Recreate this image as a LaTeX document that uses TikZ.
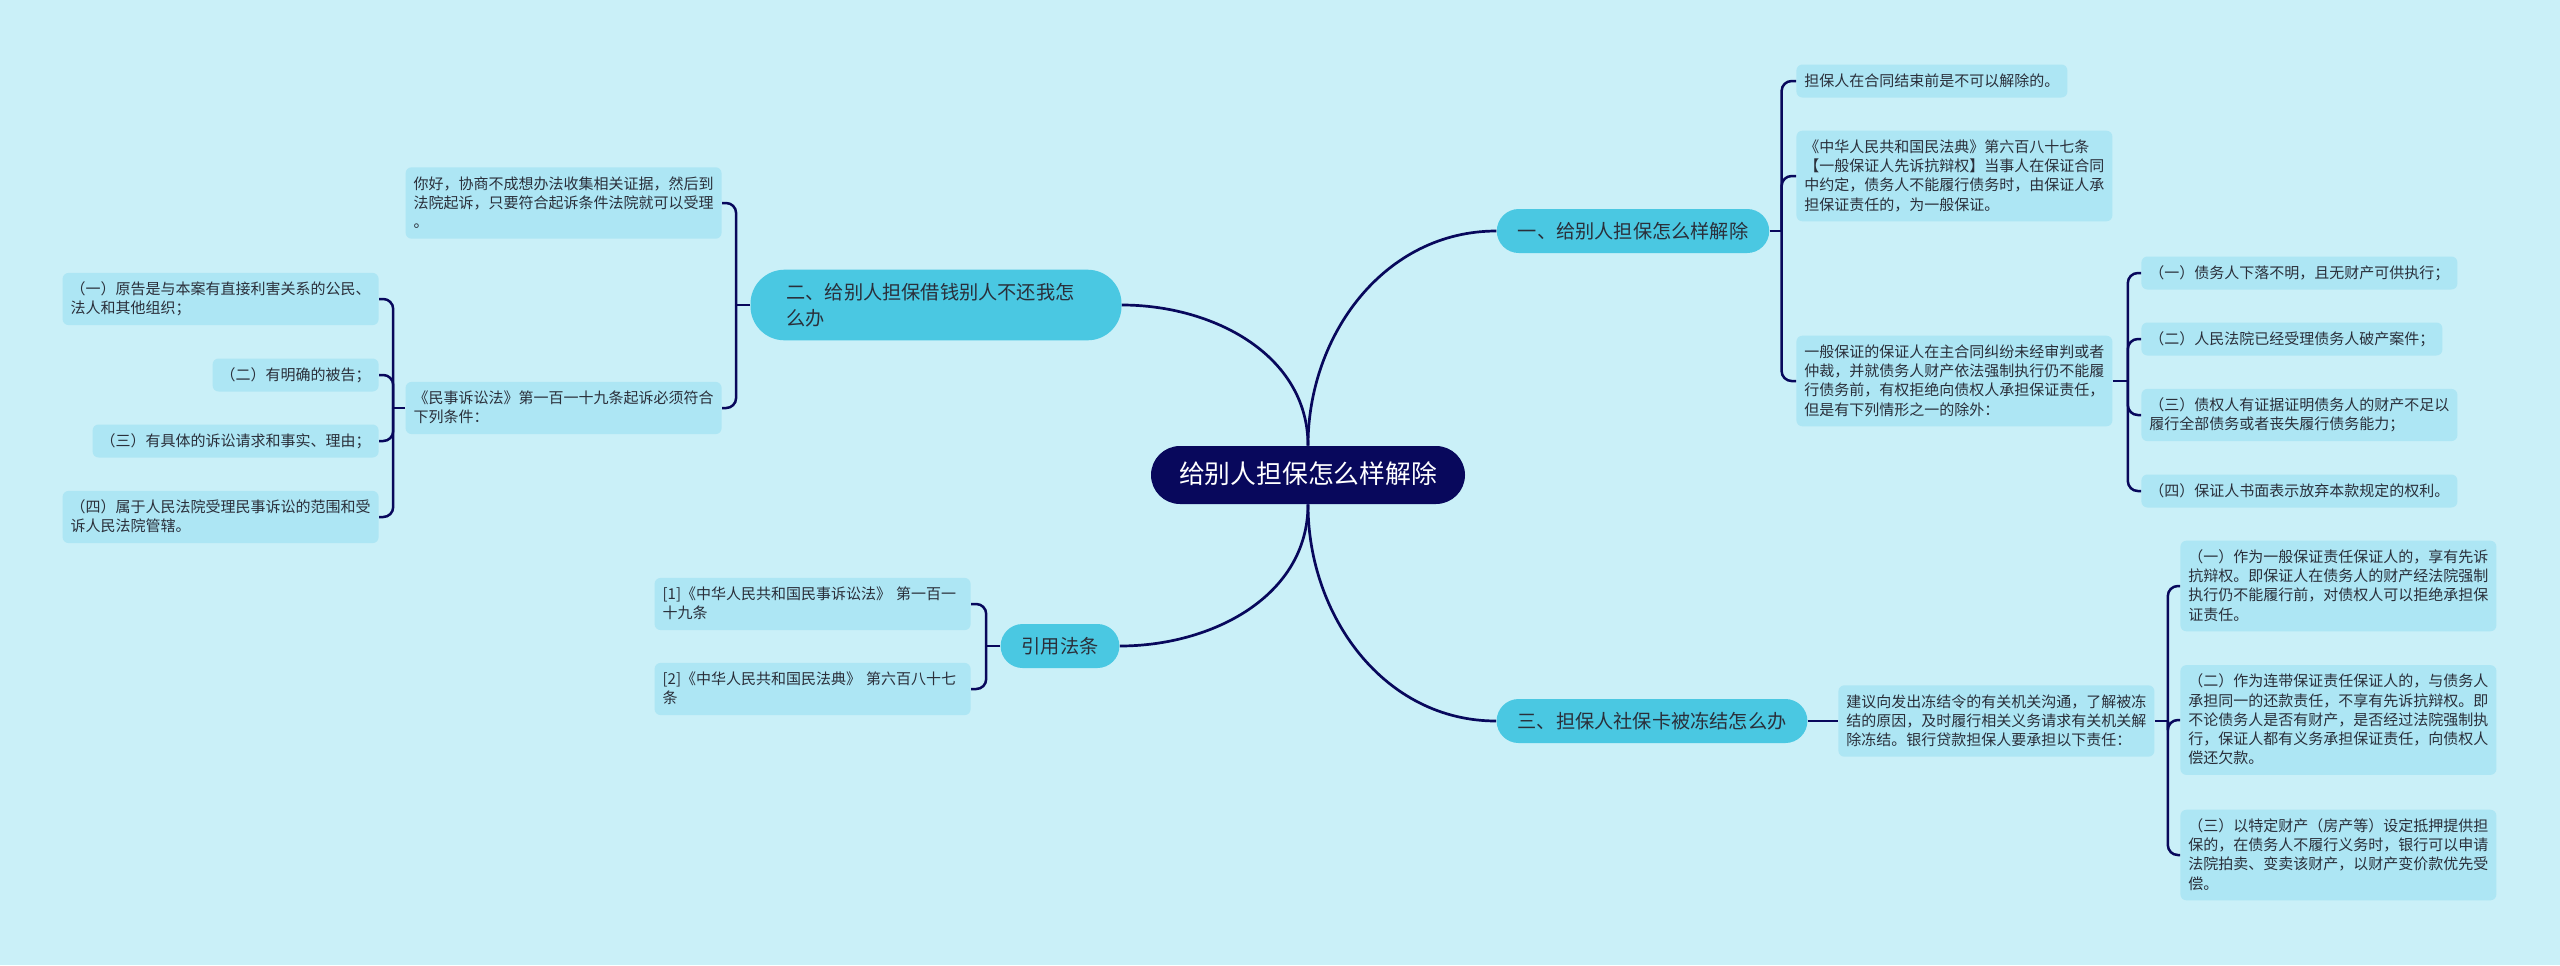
\documentclass[tikz,border=0pt]{standalone}
\usepackage{fontspec}
\setmainfont{Noto Sans CJK SC}
\usetikzlibrary{positioning}
\definecolor{bgc}{HTML}{CAF0F8}
\definecolor{navy}{HTML}{08085C}
\definecolor{brc}{HTML}{4AC8E2}
\definecolor{lfc}{HTML}{ADE6F4}
\definecolor{txc}{HTML}{2A2F3A}
\newcommand\leafstrut{\rule[-2.2pt]{0pt}{9.6pt}}
\newcommand\brstrut{\rule[-3pt]{0pt}{13.3pt}}
\newcommand\rootstrut{\rule[-3.6pt]{0pt}{16pt}}
\begin{document}
\begin{tikzpicture}[x=0.5pt, y=-0.5pt,
  root/.style={fill=navy, text=white, rounded corners=14.5pt, inner xsep=14pt, inner ysep=6.5pt,
    font=\fontsize{12.9}{16}\selectfont, execute at begin node=\rootstrut},
  branch/.style={fill=brc, text=txc, rounded corners=11pt, inner xsep=10.5pt, inner ysep=4.35pt,
    align=left, font=\fontsize{9.6}{13.3}\selectfont, execute at begin node=\brstrut, execute at end node=\brstrut},
  leaf/.style={fill=lfc, text=txc, rounded corners=3pt, inner xsep=4pt, inner ysep=3.45pt,
    align=left, font=\fontsize{7.5}{9.6}\selectfont, execute at begin node=\leafstrut, execute at end node=\leafstrut},
  wide/.style={text width=150pt},
  edge/.style={draw=navy, line width=1.35pt},
  link/.style={draw=navy, line width=1.25pt, rounded corners=5pt}]
\fill[bgc] (0,0) rectangle (2560,965);
\useasboundingbox (0,0) rectangle (2560,965);
% centre
\node[root] (root) at (1308,475) {给别人担保怎么样解除};
% main branches
\node[branch] (b1) at (1633,231) {一、给别人担保怎么样解除};
\node[branch, text width=149.5pt, inner xsep=18pt, rounded corners=17pt] (b2) at (936,305) {二、给别人担保借钱别人不还我怎\\么办};
\node[branch] (b3) at (1652,721) {三、担保人社保卡被冻结怎么办};
\node[branch] (b4) at (1060,646) {引用法条};
\draw[edge] (root.north) to[out=90,in=180] (b1.west);
\draw[edge] (root.north) to[out=90,in=0] (b2.east);
\draw[edge] (root.south) to[out=-90,in=180] (b3.west);
\draw[edge] (root.south) to[out=-90,in=0] (b4.east);
% branch one
\node[leaf, anchor=west] (l1a) at (1796,81) {担保人在合同结束前是不可以解除的。};
\node[leaf, wide, anchor=west] (l1b) at (1796,176) {《中华人民共和国民法典》第六百八十七条\\【一般保证人先诉抗辩权】当事人在保证合同\\中约定，债务人不能履行债务时，由保证人承\\担保证责任的，为一般保证。};
\node[leaf, wide, anchor=west] (l1c) at (1796,381) {一般保证的保证人在主合同纠纷未经审判或者\\仲裁，并就债务人财产依法强制执行仍不能履\\行债务前，有权拒绝向债权人承担保证责任，\\但是有下列情形之一的除外：};
\draw[link] (b1.east) -- ++(12,0) coordinate (j1);
\foreach \n in {l1a,l1b,l1c} \draw[link] (j1) |- (\n.west);
\node[leaf, wide, anchor=west] (c1a) at (2141,273) {（一）债务人下落不明，且无财产可供执行；};
\node[leaf, minimum width=150pt, anchor=west] (c1b) at (2141,339) {（二）人民法院已经受理债务人破产案件；};
\node[leaf, wide, anchor=west] (c1c) at (2141,415) {（三）债权人有证据证明债务人的财产不足以\\履行全部债务或者丧失履行债务能力；};
\node[leaf, wide, anchor=west] (c1d) at (2141,491) {（四）保证人书面表示放弃本款规定的权利。};
\draw[link] (l1c.east) -- ++(15,0) coordinate (k1);
\foreach \n in {c1a,c1b,c1c,c1d} \draw[link] (k1) |- (\n.west);
% branch three
\node[leaf, wide, anchor=west] (l3) at (1838,721) {建议向发出冻结令的有关机关沟通，了解被冻\\结的原因，及时履行相关义务请求有关机关解\\除冻结。银行贷款担保人要承担以下责任：};
\draw[link] (b3.east) -- (b3.east -| l3.west);
\node[leaf, wide, anchor=west] (c3a) at (2180,586) {（一）作为一般保证责任保证人的，享有先诉\\抗辩权。即保证人在债务人的财产经法院强制\\执行仍不能履行前，对债权人可以拒绝承担保\\证责任。};
\node[leaf, wide, anchor=west] (c3b) at (2180,720) {（二）作为连带保证责任保证人的，与债务人\\承担同一的还款责任，不享有先诉抗辩权。即\\不论债务人是否有财产，是否经过法院强制执\\行，保证人都有义务承担保证责任，向债权人\\偿还欠款。};
\node[leaf, wide, anchor=west] (c3c) at (2180,855) {（三）以特定财产（房产等）设定抵押提供担\\保的，在债务人不履行义务时，银行可以申请\\法院拍卖、变卖该财产，以财产变价款优先受\\偿。};
\draw[link] (l3.east) -- ++(13,0) coordinate (k3);
\foreach \n in {c3a,c3b,c3c} \draw[link] (k3) |- (\n.west);
% branch two
\node[leaf, wide, anchor=east] (l2a) at (722,203) {你好，协商不成想办法收集相关证据，然后到\\法院起诉，只要符合起诉条件法院就可以受理\\。};
\node[leaf, wide, anchor=east] (l2b) at (722,408) {《民事诉讼法》第一百一十九条起诉必须符合\\下列条件：};
\draw[link] (b2.west) -- ++(-14,0) coordinate (j2);
\foreach \n in {l2a,l2b} \draw[link] (j2) |- (\n.east);
\node[leaf, wide, anchor=east] (c2a) at (379,299) {（一）原告是与本案有直接利害关系的公民、\\法人和其他组织；};
\node[leaf, anchor=east] (c2b) at (379,375) {（二）有明确的被告；};
\node[leaf, anchor=east] (c2c) at (379,441) {（三）有具体的诉讼请求和事实、理由；};
\node[leaf, wide, anchor=east] (c2d) at (379,517) {（四）属于人民法院受理民事诉讼的范围和受\\诉人民法院管辖。};
\draw[link] (l2b.west) -- ++(-12,0) coordinate (k2);
\foreach \n in {c2a,c2b,c2c,c2d} \draw[link] (k2) |- (\n.east);
% branch four
\node[leaf, wide, anchor=east] (l4a) at (971,604) {[1]《中华人民共和国民事诉讼法》 第一百一\\十九条};
\node[leaf, wide, anchor=east] (l4b) at (971,689) {[2]《中华人民共和国民法典》 第六百八十七\\条};
\draw[link] (b4.west) -- ++(-14,0) coordinate (j4);
\foreach \n in {l4a,l4b} \draw[link] (j4) |- (\n.east);
\end{tikzpicture}
\end{document}
